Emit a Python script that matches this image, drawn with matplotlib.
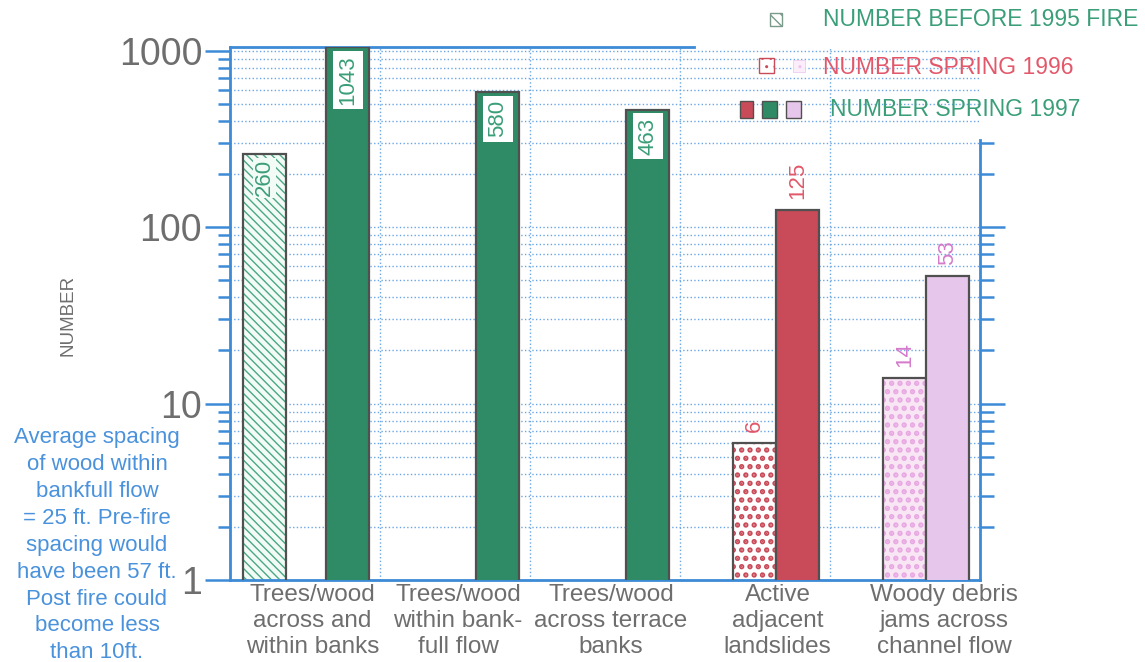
import numpy as np
import matplotlib as mpl
import matplotlib.pyplot as plt
from matplotlib.patches import Rectangle
from matplotlib.ticker import FixedLocator, NullFormatter, LogLocator

plt.rcParams['font.family'] = ['Liberation Sans', 'DejaVu Sans']

categories = ["Trees/wood\nacross and\nwithin banks",
              "Trees/wood\nwithin bank-\nfull flow",
              "Trees/wood\nacross terrace\nbanks",
              "Active\nadjacent\nlandslides",
              "Woody debris\njams across\nchannel flow"]
before_fire = [260, np.nan, np.nan, np.nan, np.nan]
spring_1996 = [np.nan, np.nan, np.nan, 6, 14]
spring_1997 = [1043, 580, 463, 125, 53]

note = ("Average spacing\nof wood within\nbankfull flow\n= 25 ft. Pre-fire\n"
        "spacing would\nhave been 57 ft.\nPost fire could\nbecome less\nthan 10ft.")

GREEN = "#2f8b66"
RED = "#c94a58"
VIOLET = "#e6c6ea"
BLUE = "#3d8ad6"
GRID = "#6aa6e6"
GRAY = "#6e6e6e"
EDGE = "#505050"
TXT_GREEN = "#3a9e78"
TXT_RED = "#e2586a"
TXT_PINK = "#d47acb"

W, H = 1145, 662
fig = plt.figure(figsize=(W / 100, H / 100), dpi=100)
ax = fig.add_axes([230 / W, 1 - 580 / H, 750 / W, 533 / H])
ax.set_yscale('log')

x = np.arange(len(categories))
bw = 0.285

# before fire: hatched
with mpl.rc_context({'hatch.linewidth': 1.0}):
    ax.bar(x + 0.23, before_fire, bw, bottom=0, color="#f3fbf7", hatch="\\\\\\\\",
           edgecolor="#4aa884", linewidth=0, zorder=2)
ax.bar(x + 0.23, before_fire, bw, bottom=0, fill=False, edgecolor=EDGE,
       linewidth=1.6, zorder=3)

# spring 1996: dotted
dot_face = ["white", "white", "white", "white", "#f8e6f5"]
dot_colors = [RED, RED, RED, RED, "#e8a8e2"]
with mpl.rc_context({'hatch.linewidth': 2.6}):
    ax.bar(x + 0.495, spring_1996, bw, bottom=0, color=dot_face, hatch="..",
           edgecolor=dot_colors, linewidth=0, zorder=2)
ax.bar(x + 0.495, spring_1996, bw, bottom=0, fill=False, edgecolor=EDGE,
       linewidth=1.6, zorder=3)

# spring 1997: solid
solid_colors = [GREEN, GREEN, GREEN, RED, VIOLET]
ax.bar(x + 0.785, spring_1997, bw, bottom=0, color=solid_colors,
       edgecolor=EDGE, linewidth=1.6, zorder=3)

# value labels
for i, v in enumerate(before_fire):
    if not np.isnan(v):
        ax.text(x[i] + 0.23, v * 0.93, f"{v:g}", rotation=90, ha='center', va='top',
                color=TXT_GREEN, fontsize=16, zorder=4,
                bbox=dict(boxstyle='square,pad=0.05', fc='#f3fbf7', ec='none'))
for i, v in enumerate(spring_1996):
    if not np.isnan(v):
        c = TXT_RED if i == 3 else TXT_PINK
        ax.text(x[i] + 0.495, v * 1.15, f"{v:g}", rotation=90, ha='center', va='bottom',
                color=c, fontsize=16, zorder=4)
for i, v in enumerate(spring_1997):
    if i < 3:
        ax.text(x[i] + 0.785, v * 0.9, f"{v:g}", rotation=90, ha='center', va='top',
                color=TXT_GREEN, fontsize=16, zorder=4,
                bbox=dict(boxstyle='square,pad=0.2', fc='white', ec='none'))
    else:
        c = TXT_RED if i == 3 else TXT_PINK
        ax.text(x[i] + 0.785, v * 1.15, f"{v:g}", rotation=90, ha='center', va='bottom',
                color=c, fontsize=16, zorder=4)

ax.set_xlim(0, 5)
ax.set_ylim(1, 1047)

# grid
ax.set_axisbelow(True)
ax.yaxis.set_minor_locator(LogLocator(base=10, subs=np.arange(2, 10)))
ax.yaxis.set_minor_formatter(NullFormatter())
ax.grid(True, which='both', axis='y', color=GRID, linestyle=':', linewidth=1.0)
for xv in [1, 2, 3, 4]:
    ax.axvline(xv, color=GRID, linestyle=':', linewidth=1.0, zorder=0)

# y ticks
ax.set_yticks([1, 10, 100, 1000])
ax.set_yticklabels(["1", "10", "100", "1000"], fontsize=27, color=GRAY)
ax.tick_params(axis='y', which='major', direction='out', length=18, width=1.8,
               color=BLUE, pad=2, left=True, right=False)
ax.tick_params(axis='y', which='minor', direction='out', length=9, width=1.8,
               color=BLUE, left=True, right=False)

# x labels
ax.set_xticks(x + np.array([0.55, 0.52, 0.54, 0.65, 0.76]))
ax.set_xticklabels(categories, fontsize=17.5, color=GRAY, linespacing=1.22)
ax.tick_params(axis='x', length=0, pad=3)

for s in ['left', 'bottom', 'top', 'right']:
    ax.spines[s].set_color(BLUE)
    ax.spines[s].set_linewidth(2)
ax.spines['right'].set_visible(False)
ax.spines['top'].set_bounds(0, 3.09)

# right partial axis
ax2 = ax.twinx()
ax2.set_yscale('log')
ax2.set_ylim(ax.get_ylim())
for s in ['left', 'bottom', 'top']:
    ax2.spines[s].set_visible(False)
ax2.spines['right'].set_color(BLUE)
ax2.spines['right'].set_linewidth(2)
ax2.spines['right'].set_bounds(1, 310)
ax2.yaxis.set_major_locator(FixedLocator([10, 100]))
ax2.yaxis.set_minor_locator(FixedLocator([m * d for d in [1, 10, 100] for m in range(2, 10) if m * d <= 300]))
ax2.yaxis.set_major_formatter(NullFormatter())
ax2.yaxis.set_minor_formatter(NullFormatter())
ax2.tick_params(axis='y', which='major', direction='out', length=18, width=1.8, color=BLUE)
ax2.tick_params(axis='y', which='minor', direction='out', length=10, width=1.8, color=BLUE)

# y label and note
fig.text(68 / W, 1 - 315 / H, "NUMBER", rotation=90, ha='center', va='center',
         fontsize=13.5, color=GRAY)
fig.text(97 / W, 1 - 427 / H, note, ha='center', va='top', fontsize=16,
         color="#4a92dc", linespacing=1.37)

# legend
def box(px, py, w, h, **kw):
    fig.patches.append(Rectangle((px / W, 1 - (py + h) / H), w / W, h / H,
                                 transform=fig.transFigure, **kw))

box(770, 13, 12, 13, facecolor="white", hatch="\\\\\\", edgecolor="#7a9a8a", linewidth=1)
box(759, 58, 15, 15, facecolor="white", hatch="..", edgecolor=RED, linewidth=1)
box(793, 60, 12, 12, facecolor="#fbeefa", hatch="..", edgecolor="#eac4ee", linewidth=0.5)
box(740, 101, 13, 17, facecolor=RED, edgecolor=EDGE, linewidth=1)
box(762, 101, 15, 17, facecolor=GREEN, edgecolor=EDGE, linewidth=1)
box(786, 101, 15, 17, facecolor=VIOLET, edgecolor=EDGE, linewidth=1)

fig.text(823 / W, 1 - 20 / H, "NUMBER BEFORE 1995 FIRE", va='center', ha='left',
         fontsize=16.5, color=TXT_GREEN)
fig.text(823 / W, 1 - 67 / H, "NUMBER SPRING 1996", va='center', ha='left',
         fontsize=16.5, color=TXT_RED)
fig.text(830 / W, 1 - 110 / H, "NUMBER SPRING 1997", va='center', ha='left',
         fontsize=16.5, color=TXT_GREEN)

fig.savefig("out.png", dpi=100)
